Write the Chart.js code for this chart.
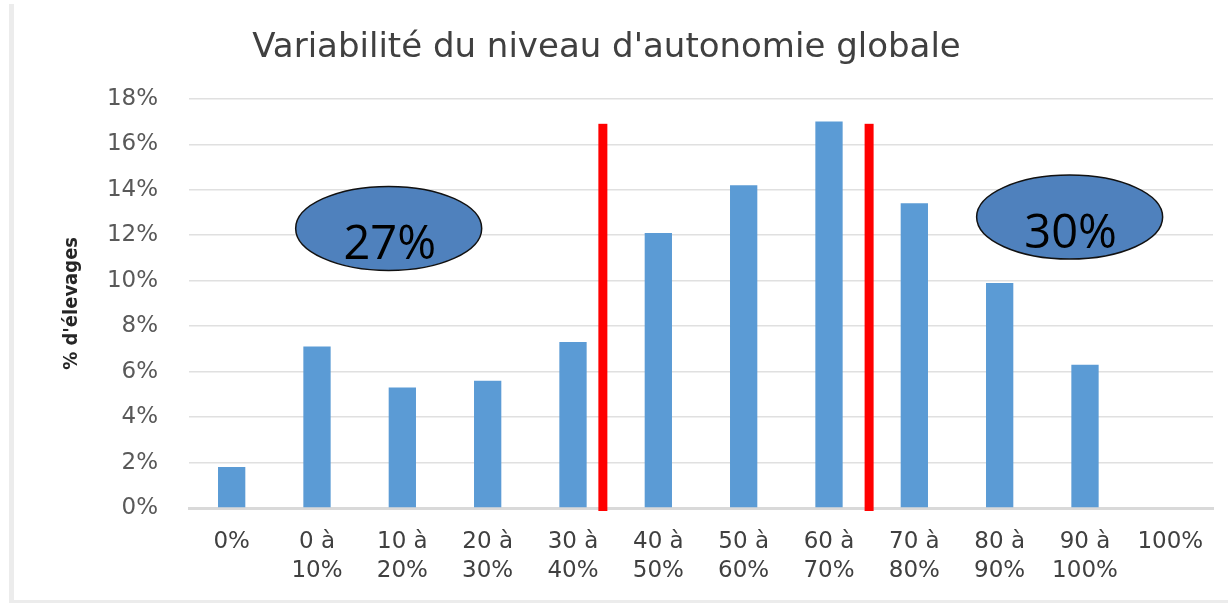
<!DOCTYPE html>
<html>
<head>
<meta charset="utf-8">
<script src="https://cdn.jsdelivr.net/npm/chart.js@4/dist/chart.umd.min.js"></script>
<style>
  html, body { margin: 0; padding: 0; background: #ffffff; }
  #wrap { width: 1228px; height: 603px; position: relative; }
</style>
</head>
<body>
<div id="wrap"><canvas id="chartCanvas" width="1228" height="603"></canvas></div>
<script>
// Données du graphique
const categories = [
    '0%', ['0 à', '10%'], ['10 à', '20%'], ['20 à', '30%'], ['30 à', '40%'], ['40 à', '50%'],
    ['50 à', '60%'], ['60 à', '70%'], ['70 à', '80%'], ['80 à', '90%'], ['90 à', '100%'], '100%'
];
const pctElevages = [1.8, 7.1, 5.3, 5.6, 7.3, 12.1, 14.2, 17.0, 13.4, 9.9, 6.3, 0];
const yTicks = [0, 2, 4, 6, 8, 10, 12, 14, 16, 18];

// Séparateurs rouges (position en index de catégorie, hauteur en %)
const separateurs = [4.35, 7.47];
const hauteurSeparateur = 16.9;

// Bulles de synthèse : [index x, valeur y, texte]
const bulles = [
    { x: 1.84, y: 12.3, texte: '27%' },
    { x: 9.82, y: 12.8, texte: '30%' }
];

// Plugin pour les annotations (lignes rouges, ellipses, cadre)
const annotations = {
    id: 'annotations',
    beforeDraw(chart) {
        const c = chart.ctx;
        c.save();
        c.fillStyle = '#ececec';
        c.fillRect(9, 4, 5, 599);
        c.fillRect(9, 600, 1219, 3);
        c.restore();
    },
    afterDatasetsDraw(chart) {
        const c = chart.ctx;
        const xs = chart.scales.x;
        const ys = chart.scales.y;
        c.save();
        // Lignes rouges
        c.fillStyle = '#ff0000';
        separateurs.forEach(v => {
            const px = xs.getPixelForValue(v);
            const top = ys.getPixelForValue(hauteurSeparateur);
            const bottom = ys.getPixelForValue(0) + 3;
            c.fillRect(px - 4.5, top, 9, bottom - top);
        });
        // Ellipses
        bulles.forEach(b => {
            const cx = xs.getPixelForValue(b.x);
            const cy = ys.getPixelForValue(b.y);
            c.beginPath();
            c.ellipse(cx, cy, 93, 42, 0, 0, Math.PI * 2);
            c.fillStyle = '#4f81bd';
            c.fill();
            c.lineWidth = 1.5;
            c.strokeStyle = '#111111';
            c.stroke();
            c.fillStyle = '#000000';
            c.font = '47px "Open Sans"';
            c.textAlign = 'center';
            c.textBaseline = 'alphabetic';
            c.fillText(b.texte, cx + 1, cy + 31);
        });
        c.restore();
    }
};

const ctx = document.getElementById('chartCanvas').getContext('2d');
const chart = new Chart(ctx, {
    type: 'bar',
    data: {
        labels: categories,
        datasets: [{
            label: "% d'élevages",
            data: pctElevages,
            backgroundColor: '#5b9bd5',
            borderWidth: 0,
            barPercentage: 0.32,
            categoryPercentage: 1
        }]
    },
    options: {
        responsive: false,
        animation: false,
        layout: { padding: { left: 0, right: 15, top: 0, bottom: 0 } },
        plugins: {
            legend: { display: false },
            tooltip: { enabled: false },
            title: {
                display: true,
                text: "Variabilité du niveau d'autonomie globale",
                color: '#404040',
                font: { family: '"DejaVu Sans"', size: 34, weight: 'normal' },
                padding: { top: 28, bottom: 30 }
            }
        },
        scales: {
            x: {
                grid: { display: false, drawTicks: false },
                border: { display: true, color: '#d9d9d9', width: 3 },
                ticks: {
                    color: '#404040',
                    font: { family: '"DejaVu Sans"', size: 23, lineHeight: 1.25 },
                    padding: 20,
                    maxRotation: 0,
                    autoSkip: false
                },
                afterFit(scale) { scale.height = 95; }
            },
            y: {
                min: 0,
                max: 18,
                afterBuildTicks(scale) { scale.ticks = yTicks.map(v => ({ value: v })); },
                grid: { color: '#e0e0e0', lineWidth: 1.5, drawTicks: false },
                border: { display: false },
                ticks: {
                    color: '#595959',
                    font: { family: '"DejaVu Sans"', size: 23 },
                    padding: 31,
                    callback: v => v + '%'
                },
                title: {
                    display: true,
                    text: "% d'élevages",
                    color: '#262626',
                    font: { family: '"DejaVu Sans Condensed", "DejaVu Sans"', size: 20, weight: 'bold' },
                    padding: { top: 60, bottom: 0 }
                },
                afterFit(scale) { scale.width = 189; }
            }
        }
    },
    plugins: [annotations]
});
</script>
</body>
</html>
